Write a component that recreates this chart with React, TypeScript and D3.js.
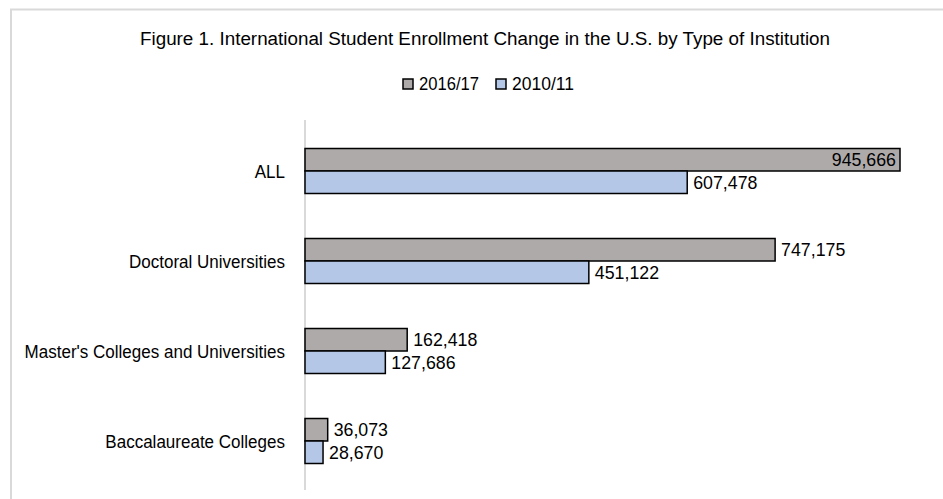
import React from "react";
import * as d3 from "d3";

const categories = ["ALL", "Doctoral Universities", "Master's Colleges and Universities", "Baccalaureate Colleges"];
const series = ["2016/17", "2010/11"];
const values2016 = [945666, 747175, 162418, 36073];
const values2010 = [607478, 451122, 127686, 28670];
const colors = ["#aeaaaa", "#b4c7e7"];

const W = 943, H = 499;
const title = "Figure 1. International  Student Enrollment Change in the U.S. by Type of Institution";

export default function App() {
  const x = d3.scaleLinear().domain([0, 945666]).range([305, 900]);
  const y = d3.scaleBand().domain(categories).range([126, 486]).paddingInner(0.5).paddingOuter(0.25);
  const sub = d3.scaleBand().domain(series).range([0, y.bandwidth()]);
  const fmt = d3.format(",");
  const data = [values2016, values2010];
  const font = "'Liberation Sans', Arial, sans-serif";

  return (
    <svg width={W} height={H} style={{ position: "absolute", left: 0, top: 0 }} fontFamily={font}>
      <rect x={0} y={0} width={W} height={H} fill="#fff" />
      <path d={`M11,${H} V9.5 H${W}`} fill="none" stroke="#d9d9d9" strokeWidth={2} />
      <text x={485} y={45} textAnchor="middle" fontSize={18} fill="#000" textLength={690} lengthAdjust="spacingAndGlyphs">{title}</text>
      {series.map((s, i) => {
        const lx = [403, 496][i];
        return (
          <g key={s}>
            <rect x={lx} y={79} width={10} height={10} fill={colors[i]} stroke="#000" strokeWidth={1.5} />
            <text x={lx + 16} y={89.5} fontSize={18} textLength={[60, 62][i]} lengthAdjust="spacingAndGlyphs">{s}</text>
          </g>
        );
      })}
      <line x1={305} x2={305} y1={120} y2={490} stroke="#d9d9d9" strokeWidth={2} />
      {categories.map((c, ci) => (
        <g key={c}>
          <text transform={`translate(285,${(y(c) as number) + y.bandwidth() / 2 + 7}) scale(0.92,1)`} textAnchor="end" fontSize={18.5}>{c}</text>
          {series.map((s, si) => {
            const v = data[si][ci];
            const by = (y(c) as number) + (sub(s) as number);
            const bw = x(v) - x(0);
            const inside = ci === 0 && si === 0;
            return (
              <g key={s}>
                <rect x={x(0)} y={by} width={bw} height={sub.bandwidth()} fill={colors[si]} stroke="#000" strokeWidth={1.5} />
                <text
                  transform={`translate(${inside ? x(v) - 4 : x(v) + 6},${by + sub.bandwidth() / 2 + 6.5}) scale(0.96,1)`}
                  textAnchor={inside ? "end" : "start"}
                  fontSize={18.5}
                >{fmt(v)}</text>
              </g>
            );
          })}
        </g>
      ))}
    </svg>
  );
}
